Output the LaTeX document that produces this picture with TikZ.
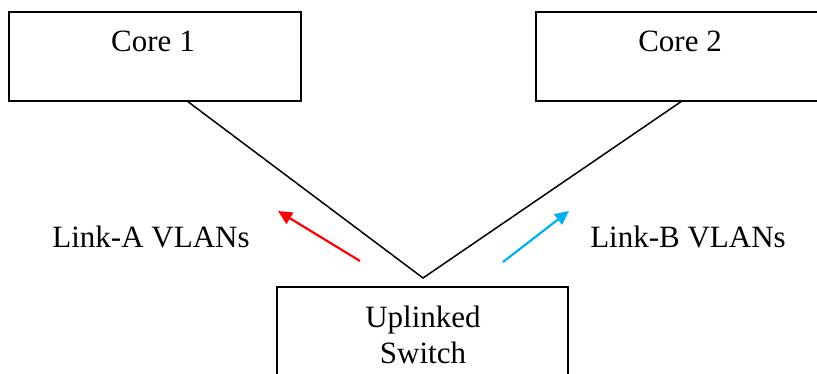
\documentclass[tikz,border=0pt]{standalone}
\usepackage{fontspec}
\setmainfont{Liberation Serif}
\usetikzlibrary{arrows.meta}
\definecolor{linkred}{HTML}{FF0000}
\definecolor{linkblue}{HTML}{00B0F0}
\begin{document}
\begin{tikzpicture}[x=1pt,y=-1pt,
  box/.style={draw=black,line width=1.6pt,minimum width=292pt,minimum height=89pt,inner sep=0pt},
  lbl/.style={anchor=base,inner sep=0pt,font=\fontsize{31}{36}\selectfont},
  conn/.style={draw=black,line width=1.5pt},
  vlan/.style={line width=2.2pt,-{Triangle[length=14pt,width=13pt]}}]
\useasboundingbox (0,0) rectangle (817,374);
\begin{scope}
\clip (0,0) rectangle (817,374);
\node[box] (core1) at (155,56.5) {};
\node[box] (core2) at (682,56.5) {};
\node[box,minimum width=291pt,minimum height=100pt] (sw) at (422.5,337) {};
\end{scope}
\node[lbl] (t1) at (153,52) {Core 1};
\node[lbl] (t2) at (680,52) {Core 2};
\node[lbl] (t3) at (423,327) {Uplinked};
\node[lbl] (t4) at (423,363) {Switch};
\node[lbl] (la) at (151,248) {Link-A VLANs};
\node[lbl] (lb) at (688,248) {Link-B VLANs};
\coordinate (c1) at (187,101);
\coordinate (c2) at (682,101);
\coordinate (apex) at (423,278);
\draw[conn] (c1) -- (apex) -- (c2);
\coordinate (ra) at (360,261);
\coordinate (rb) at (278,211);
\coordinate (ba) at (503,262);
\coordinate (bb) at (569,211);
\draw[vlan,linkred] (ra) -- (rb);
\draw[vlan,linkblue] (ba) -- (bb);
\end{tikzpicture}
\end{document}
